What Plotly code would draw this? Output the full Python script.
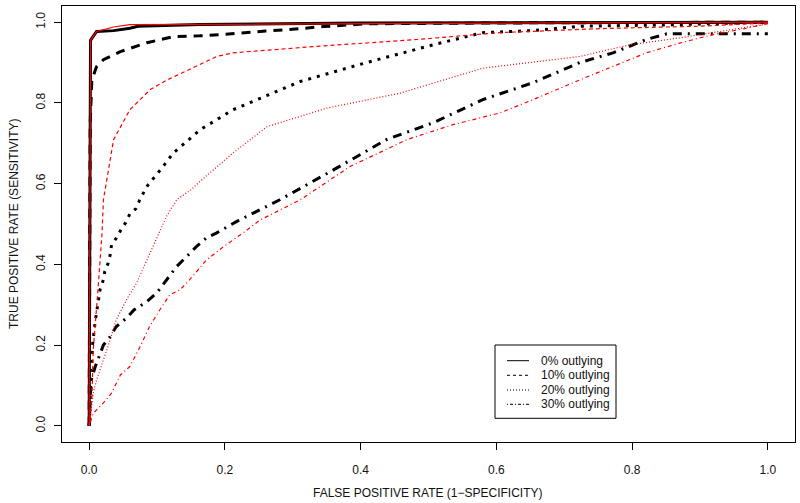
import plotly.graph_objects as go

# ---- data ----
black0_x = [0, 0.001, 0.002, 0.011, 0.036, 0.06, 0.072, 0.163, 0.4, 1.0]
black0_y = [0, 0.5, 0.955, 0.977, 0.979, 0.985, 0.99, 0.994, 0.998, 1.0]
red0_x = [0, 0.001, 0.002, 0.011, 0.036, 0.06, 0.2, 0.5, 1.0]
red0_y = [0, 0.5, 0.955, 0.977, 0.988, 0.994, 0.995, 0.998, 1.0]

black10_x = [0, 0.001, 0.0015, 0.004, 0.011, 0.021, 0.036, 0.046, 0.085, 0.124, 0.163, 0.195, 0.26, 0.29, 0.345, 0.41, 0.6, 1.0]
black10_y = [0, 0.3, 0.75, 0.857, 0.89, 0.907, 0.919, 0.927, 0.949, 0.964, 0.966, 0.969, 0.978, 0.981, 0.989, 0.996, 0.998, 1.0]
red10_x = [0, 0.004, 0.006, 0.01, 0.013, 0.019, 0.021, 0.036, 0.06, 0.09, 0.115, 0.163, 0.188, 0.212, 0.335, 0.483, 0.605, 0.753, 0.9, 1.0]
red10_y = [0, 0.064, 0.188, 0.287, 0.337, 0.478, 0.56, 0.709, 0.783, 0.833, 0.857, 0.895, 0.915, 0.924, 0.94, 0.957, 0.974, 0.984, 0.99, 0.998]

black20_x = [0, 0.002, 0.005, 0.009, 0.016, 0.021, 0.023, 0.028, 0.031, 0.033, 0.04, 0.047, 0.054, 0.06, 0.069, 0.074, 0.085, 0.105, 0.124, 0.149, 0.163, 0.212, 0.311, 0.409, 0.507, 0.58, 0.654, 0.723, 0.85, 1.0]
black20_y = [0, 0.1, 0.2, 0.26, 0.337, 0.362, 0.382, 0.403, 0.424, 0.449, 0.465, 0.486, 0.504, 0.525, 0.538, 0.558, 0.593, 0.634, 0.676, 0.712, 0.733, 0.783, 0.853, 0.9, 0.944, 0.974, 0.979, 0.99, 0.993, 1.0]
red20_x = [0, 0.006, 0.011, 0.021, 0.031, 0.04, 0.055, 0.07, 0.085, 0.1, 0.114, 0.129, 0.15, 0.163, 0.212, 0.262, 0.35, 0.458, 0.557, 0.58, 0.723, 0.797, 0.87, 0.944, 1.0]
red20_y = [0, 0.081, 0.114, 0.163, 0.213, 0.263, 0.312, 0.354, 0.411, 0.469, 0.519, 0.56, 0.585, 0.605, 0.676, 0.741, 0.787, 0.824, 0.874, 0.886, 0.915, 0.944, 0.961, 0.981, 0.996]

black30_x = [0, 0.0025, 0.009, 0.016, 0.021, 0.031, 0.04, 0.055, 0.066, 0.085, 0.1, 0.109, 0.129, 0.144, 0.158, 0.173, 0.188, 0.217, 0.237, 0.252, 0.281, 0.36, 0.438, 0.507, 0.58, 0.654, 0.723, 0.772, 0.821, 0.851, 1.0]
black30_y = [0, 0.11, 0.147, 0.18, 0.2, 0.221, 0.246, 0.267, 0.287, 0.308, 0.33, 0.35, 0.395, 0.42, 0.444, 0.466, 0.478, 0.506, 0.523, 0.535, 0.56, 0.634, 0.709, 0.751, 0.808, 0.85, 0.9, 0.924, 0.957, 0.971, 0.971]
red30_x = [0, 0.006, 0.021, 0.033, 0.046, 0.06, 0.075, 0.089, 0.104, 0.119, 0.134, 0.148, 0.173, 0.198, 0.227, 0.252, 0.311, 0.384, 0.468, 0.536, 0.605, 0.654, 0.723, 0.772, 0.821, 0.87, 0.919, 0.969, 1.0]
red30_y = [0, 0.031, 0.057, 0.081, 0.126, 0.147, 0.196, 0.246, 0.287, 0.325, 0.337, 0.362, 0.411, 0.444, 0.478, 0.51, 0.56, 0.642, 0.709, 0.746, 0.775, 0.808, 0.857, 0.89, 0.924, 0.948, 0.969, 0.985, 0.996]

tick_vals = [0, 0.2, 0.4, 0.6, 0.8, 1.0]
tick_text = ["0.0", "0.2", "0.4", "0.6", "0.8", "1.0"]
legend_labels = ["0% outlying", "10% outlying", "20% outlying", "30% outlying"]

FONT = "Liberation Sans, Arial, Helvetica, sans-serif"

black_dash = ["solid", "9px,7px", "3px,6px", "2px,6px,9px,6px"]
red_dash = ["solid", "4px,3px", "1px,2px", "1px,3px,4px,3px"]
legend_dash = ["solid", "3px,3px", "1px,2px", "1px,2px,3px,2px"]

fig = go.Figure()
blacks = [(black0_x, black0_y), (black10_x, black10_y), (black20_x, black20_y), (black30_x, black30_y)]
reds = [(red0_x, red0_y), (red10_x, red10_y), (red20_x, red20_y), (red30_x, red30_y)]

for i, (x, y) in enumerate(blacks):
    fig.add_trace(go.Scatter(x=x, y=y, mode="lines", showlegend=False,
                             line=dict(color="black", width=3, dash=black_dash[i])))
for i, (x, y) in enumerate(reds):
    fig.add_trace(go.Scatter(x=x, y=y, mode="lines", showlegend=False,
                             line=dict(color="#ff0000", width=1.2, dash=red_dash[i])))

axis_common = dict(range=[-0.04, 1.04], showgrid=False, zeroline=False,
                   showline=True, mirror=True, linecolor="black", linewidth=1,
                   ticks="outside", ticklen=7, tickwidth=1, tickcolor="black",
                   tickvals=tick_vals, ticktext=tick_text, automargin=False,
                   tickfont=dict(family=FONT, size=12, color="#111"))

fig.update_layout(
    width=800, height=503,
    margin=dict(l=62, r=5, t=6, b=61),
    paper_bgcolor="white", plot_bgcolor="white",
    showlegend=False,
    xaxis=dict(**axis_common, ticklabelstandoff=10),
    yaxis=dict(**axis_common, tickangle=-90, ticklabelstandoff=4),
)

# axis titles
fig.add_annotation(text="FALSE POSITIVE RATE (1\u2212SPECIFICITY)", xref="paper", yref="paper",
                   x=(428 - 62) / 733, y=(442 - 493) / 436, showarrow=False,
                   xanchor="center", yanchor="middle", font=dict(family=FONT, size=12, color="#111"))
fig.add_annotation(text="TRUE POSITIVE RATE (SENSITIVITY)", xref="paper", yref="paper",
                   x=(14 - 62) / 733, y=(442 - 224) / 436, showarrow=False, textangle=-90,
                   xanchor="center", yanchor="middle", font=dict(family=FONT, size=12, color="#111"))

# manual legend box
def px_x(p):
    return (p - 62) / 733

def px_y(p):
    return (442 - p) / 436

fig.add_shape(type="rect", xref="paper", yref="paper",
              x0=px_x(495), x1=px_x(616), y0=px_y(418.3), y1=px_y(345),
              line=dict(color="black", width=1), fillcolor="white", layer="above")
rows = [360.7, 375.3, 390, 404.3]
for i, lab in enumerate(legend_labels):
    fig.add_shape(type="line", xref="paper", yref="paper",
                  x0=px_x(507), x1=px_x(529), y0=px_y(rows[i]), y1=px_y(rows[i]),
                  line=dict(color="black", width=1, dash=legend_dash[i]), layer="above")
    fig.add_annotation(text=lab, xref="paper", yref="paper", x=px_x(539), y=px_y(rows[i]),
                       showarrow=False, xanchor="left", yanchor="middle", align="left",
                       font=dict(family=FONT, size=12, color="#111"))

fig.write_html("out.html", config={"displayModeBar": False},
               post_script="document.body.style.margin='0';document.body.style.padding='0';")
